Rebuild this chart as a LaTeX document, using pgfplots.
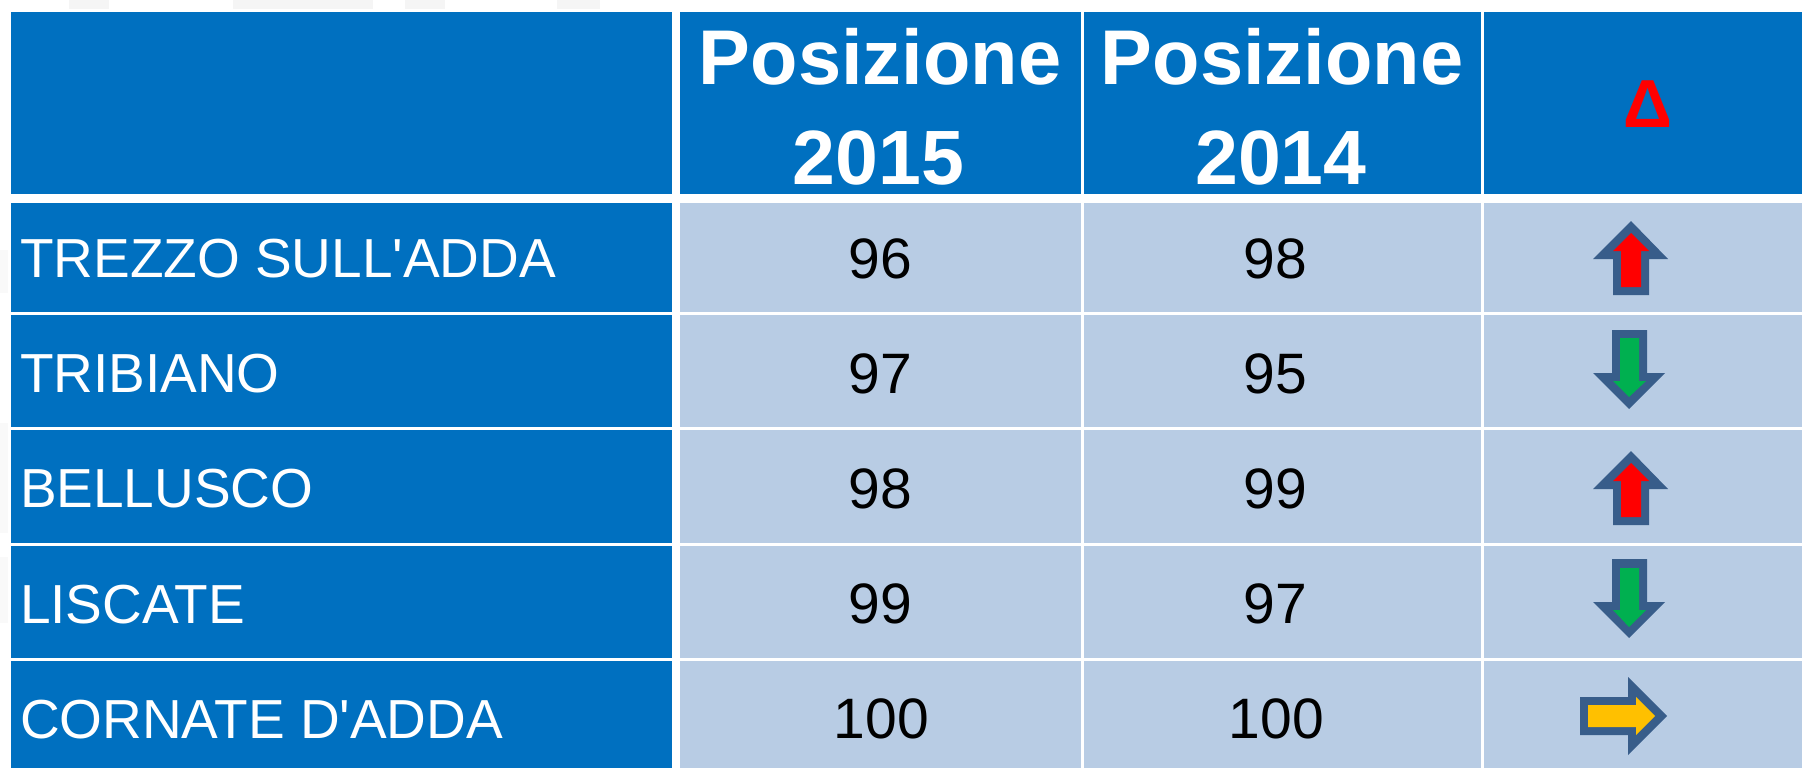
\documentclass[border=0pt]{standalone}
\usepackage{fontspec}
\setmainfont{Liberation Sans}
% no TeX mapping here, so that ' stays a straight quote
\newfontfamily\arial{Liberation Sans}
\usepackage{pgfplots}
\pgfplotsset{compat=1.18}

\definecolor{headblue}{HTML}{0070C0}
\definecolor{cellblue}{HTML}{B8CCE4}
\definecolor{arrowedge}{HTML}{385D8A}
\definecolor{arrowred}{HTML}{FF0000}
\definecolor{arrowgreen}{HTML}{00B050}
\definecolor{arrowyellow}{HTML}{FFC000}
\definecolor{ghost}{HTML}{F5F5F5}
\definecolor{ghostleft}{HTML}{F9F9F9}

% x0 x1 y0 y1, in picture pixels
\newcommand{\cell}[5]{\addplot[fill=#1, draw=none, forget plot] coordinates {(#2,#4) (#3,#4) (#3,#5) (#2,#5)} --cycle;}
\newcommand{\shape}[2]{\addplot[fill=#1, draw=none, forget plot] coordinates {#2} --cycle;}

\pgfplotsset{
  tabletext/.style n args={3}{
    only marks, mark=none, forget plot,
    point meta=explicit symbolic,
    nodes near coords,
    every node near coord/.append style={
      anchor=#1, inner sep=0pt, outer sep=0pt, text=#2,
      font=#3},
  },
}

\begin{document}
\begin{tikzpicture}
\begin{axis}[
    scale only axis, width=901pt, height=384pt,
    xmin=0, xmax=1802, ymin=0, ymax=768, y dir=reverse,
    axis lines=none, ticks=none,
]
% page background, holds the bounding box
\cell{white}{0}{1802}{0}{768}

% faint remains of the slide behind the table
\cell{ghost}{69}{109}{0}{9}
\cell{ghost}{233}{373}{0}{9}
\cell{ghost}{405}{445}{0}{9}
\cell{ghost}{557}{600}{0}{9}
\cell{ghostleft}{0}{8}{250}{293}
\cell{ghostleft}{0}{8}{423}{533}
\cell{ghostleft}{0}{8}{557}{623}

% header
\cell{headblue}{11}{672}{12}{194}
\cell{headblue}{680}{1081}{12}{194}
\cell{headblue}{1084}{1481}{12}{194}
\cell{headblue}{1484}{1802}{12}{194}

% row label cells
\cell{headblue}{11}{672}{203}{312}
\cell{headblue}{11}{672}{315}{427}
\cell{headblue}{11}{672}{430}{543}
\cell{headblue}{11}{672}{546}{658}
\cell{headblue}{11}{672}{661}{768}

% body
\cell{cellblue}{680}{1081}{203}{312}
\cell{cellblue}{680}{1081}{315}{427}
\cell{cellblue}{680}{1081}{430}{543}
\cell{cellblue}{680}{1081}{546}{658}
\cell{cellblue}{680}{1081}{661}{768}
\cell{cellblue}{1084}{1481}{203}{312}
\cell{cellblue}{1084}{1481}{315}{427}
\cell{cellblue}{1084}{1481}{430}{543}
\cell{cellblue}{1084}{1481}{546}{658}
\cell{cellblue}{1084}{1481}{661}{768}
\cell{cellblue}{1484}{1802}{203}{312}
\cell{cellblue}{1484}{1802}{315}{427}
\cell{cellblue}{1484}{1802}{430}{543}
\cell{cellblue}{1484}{1802}{546}{658}
\cell{cellblue}{1484}{1802}{661}{768}

% arrows
\shape{arrowedge}{(1631,221) (1668,259) (1649,259) (1649,295) (1613,295) (1613,259) (1593,259)}
\shape{arrowred}{(1631,233) (1649,251) (1641,251) (1641,287) (1621,287) (1621,251) (1613,251)}

\shape{arrowedge}{(1612,330) (1647,330) (1647,373) (1665,373) (1629,409) (1593,373) (1612,373)}
\shape{arrowgreen}{(1620,338) (1639,338) (1639,381) (1646,381) (1629,397) (1613,381) (1620,381)}

\shape{arrowedge}{(1631,451) (1668,489) (1649,489) (1649,525) (1613,525) (1613,489) (1593,489)}
\shape{arrowred}{(1631,463) (1649,481) (1641,481) (1641,517) (1621,517) (1621,481) (1613,481)}

\shape{arrowedge}{(1612,559) (1647,559) (1647,602) (1665,602) (1629,638) (1593,602) (1612,602)}
\shape{arrowgreen}{(1620,568) (1639,568) (1639,610) (1646,610) (1629,627) (1613,610) (1620,610)}

\shape{arrowedge}{(1580,697) (1628,697) (1628,677) (1667,716) (1628,755) (1628,735) (1580,735)}
\shape{arrowyellow}{(1588,705) (1636,705) (1636,697) (1655,716) (1636,735) (1636,727) (1588,727)}

% header text
\addplot[tabletext={base}{white}{\arial\fontsize{38.8}{40}\selectfont\bfseries}]
  coordinates {(880,84.5) [Posizione] (1282,84.5) [Posizione]};
\addplot[tabletext={base}{white}{\arial\fontsize{38.5}{40}\selectfont\bfseries}]
  coordinates {(878.5,184) [2015] (1281,184) [2014]};
\addplot[tabletext={base}{red}{\arial\fontsize{34}{36}\selectfont\bfseries}]
  coordinates {(1648,127) [Δ]};

% row names
\addplot[tabletext={base west}{white}{\arial\fontsize{27.5}{30}\selectfont}]
  coordinates {
    (20,277) [TREZZO SULL'ADDA]
    (20,392) [TRIBIANO]
    (20,507) [BELLUSCO]
    (20,623) [LISCATE]
    (20,738) [CORNATE D'ADDA]
  };

% positions 2015 and 2014
\addplot[tabletext={base}{black}{\arial\fontsize{28.5}{30}\selectfont}]
  coordinates {(880.5,278) [96] (880.5,393) [97] (880.5,508) [98] (880.5,623) [99] (881.5,738) [100]};
\addplot[tabletext={base}{black}{\arial\fontsize{28.5}{30}\selectfont}]
  coordinates {(1275.5,278) [98] (1275.5,393) [95] (1275.5,508) [99] (1275.5,623) [97] (1276.5,738) [100]};
\end{axis}
\end{tikzpicture}
\end{document}
